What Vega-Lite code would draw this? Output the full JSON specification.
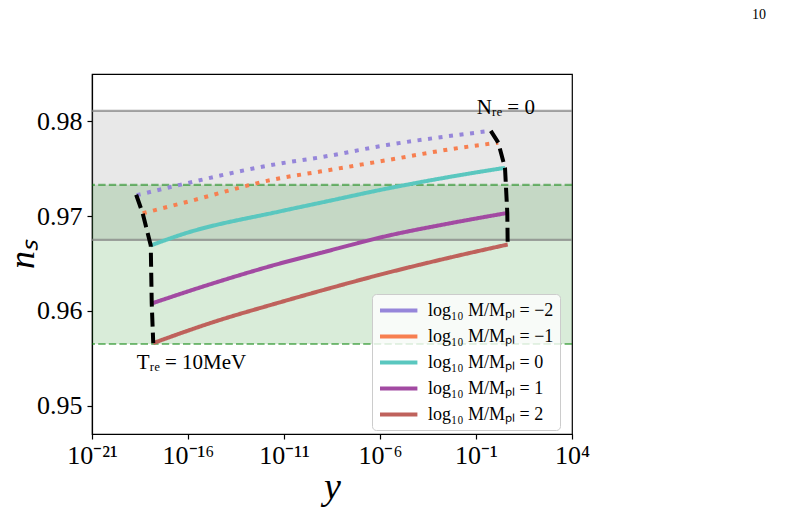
{
  "$schema": "https://vega.github.io/schema/vega-lite/v6.json",
  "width": 480,
  "height": 360,
  "autosize": {"type": "none"},
  "padding": {"left": 92, "top": 74, "right": 235, "bottom": 80},
  "config": {
    "font": "Liberation Serif",
    "view": {"stroke": "#000000", "strokeWidth": 1.2},
    "axis": {
      "grid": false,
      "domainColor": "#000000",
      "domainWidth": 1.2,
      "tickColor": "#000000",
      "tickWidth": 1.2,
      "tickSize": 5,
      "labelColor": "#000000",
      "titleColor": "#000000",
      "labelFont": "Liberation Serif",
      "titleFont": "Liberation Serif",
      "titleFontWeight": "normal"
    },
    "legend": {
      "orient": "none",
      "legendX": 280,
      "legendY": 220,
      "title": null,
      "labelFont": "Liberation Serif",
      "labelFontSize": 18,
      "labelColor": "#000000",
      "symbolType": "M-1,0L3.4,0",
      "symbolSize": 289,
      "symbolStrokeWidth": 4,
      "labelOffset": 29,
      "rowPadding": 6,
      "padding": 6,
      "fillColor": "rgba(255,255,255,0.8)",
      "strokeColor": "#cccccc",
      "cornerRadius": 4
    }
  },
  "datasets": {
    "bands": [
      {"band": "planck", "lo": 0.9675, "hi": 0.9811},
      {"band": "forecast", "lo": 0.9565, "hi": 0.9733}
    ],
    "curves": [
      {"label": "log₁₀ M/Mₚₗ = −2", "style": "dot", "yval": 2.14e-19, "ns": 0.9722},
      {"label": "log₁₀ M/Mₚₗ = −2", "style": "dot", "yval": 3.8e-17, "ns": 0.9733},
      {"label": "log₁₀ M/Mₚₗ = −2", "style": "dot", "yval": 6.17e-12, "ns": 0.97555},
      {"label": "log₁₀ M/Mₚₗ = −2", "style": "dot", "yval": 7.5e-10, "ns": 0.9762},
      {"label": "log₁₀ M/Mₚₗ = −2", "style": "dot", "yval": 2.24e-6, "ns": 0.9775},
      {"label": "log₁₀ M/Mₚₗ = −2", "style": "dot", "yval": 6.31e-3, "ns": 0.9785},
      {"label": "log₁₀ M/Mₚₗ = −2", "style": "dot", "yval": 0.589, "ns": 0.979},
      {"label": "log₁₀ M/Mₚₗ = −1", "style": "dot", "yval": 4.37e-19, "ns": 0.9703},
      {"label": "log₁₀ M/Mₚₗ = −1", "style": "dot", "yval": 3.8e-17, "ns": 0.9713},
      {"label": "log₁₀ M/Mₚₗ = −1", "style": "dot", "yval": 6.17e-12, "ns": 0.974},
      {"label": "log₁₀ M/Mₚₗ = −1", "style": "dot", "yval": 7.5e-10, "ns": 0.9747},
      {"label": "log₁₀ M/Mₚₗ = −1", "style": "dot", "yval": 2.24e-6, "ns": 0.9759},
      {"label": "log₁₀ M/Mₚₗ = −1", "style": "dot", "yval": 6.31e-3, "ns": 0.9771},
      {"label": "log₁₀ M/Mₚₗ = −1", "style": "dot", "yval": 1.445, "ns": 0.97775},
      {"label": "log₁₀ M/Mₚₗ = 0", "style": "solid", "yval": 1.15e-18, "ns": 0.9669},
      {"label": "log₁₀ M/Mₚₗ = 0", "style": "solid", "yval": 3.8e-17, "ns": 0.968},
      {"label": "log₁₀ M/Mₚₗ = 0", "style": "solid", "yval": 6.17e-12, "ns": 0.9705},
      {"label": "log₁₀ M/Mₚₗ = 0", "style": "solid", "yval": 7.5e-10, "ns": 0.9714},
      {"label": "log₁₀ M/Mₚₗ = 0", "style": "solid", "yval": 2.24e-6, "ns": 0.9729},
      {"label": "log₁₀ M/Mₚₗ = 0", "style": "solid", "yval": 6.31e-3, "ns": 0.9742},
      {"label": "log₁₀ M/Mₚₗ = 0", "style": "solid", "yval": 3.24, "ns": 0.9751},
      {"label": "log₁₀ M/Mₚₗ = 1", "style": "solid", "yval": 1.29e-18, "ns": 0.96078},
      {"label": "log₁₀ M/Mₚₗ = 1", "style": "solid", "yval": 2.0e-15, "ns": 0.9629},
      {"label": "log₁₀ M/Mₚₗ = 1", "style": "solid", "yval": 6.17e-12, "ns": 0.965},
      {"label": "log₁₀ M/Mₚₗ = 1", "style": "solid", "yval": 7.5e-10, "ns": 0.9661},
      {"label": "log₁₀ M/Mₚₗ = 1", "style": "solid", "yval": 2.24e-6, "ns": 0.9679},
      {"label": "log₁₀ M/Mₚₗ = 1", "style": "solid", "yval": 6.31e-3, "ns": 0.9693},
      {"label": "log₁₀ M/Mₚₗ = 1", "style": "solid", "yval": 4.27, "ns": 0.97033},
      {"label": "log₁₀ M/Mₚₗ = 2", "style": "solid", "yval": 1.55e-18, "ns": 0.9566},
      {"label": "log₁₀ M/Mₚₗ = 2", "style": "solid", "yval": 2.0e-15, "ns": 0.9588},
      {"label": "log₁₀ M/Mₚₗ = 2", "style": "solid", "yval": 6.17e-12, "ns": 0.9609},
      {"label": "log₁₀ M/Mₚₗ = 2", "style": "solid", "yval": 7.5e-10, "ns": 0.9621},
      {"label": "log₁₀ M/Mₚₗ = 2", "style": "solid", "yval": 2.24e-6, "ns": 0.964},
      {"label": "log₁₀ M/Mₚₗ = 2", "style": "solid", "yval": 6.31e-3, "ns": 0.9657},
      {"label": "log₁₀ M/Mₚₗ = 2", "style": "solid", "yval": 4.47, "ns": 0.967}
    ],
    "edges": [
      {"edge": "Tre", "k": 1, "yval": 2.0e-19, "ns": 0.97225},
      {"edge": "Tre", "k": 2, "yval": 4.37e-19, "ns": 0.9703},
      {"edge": "Tre", "k": 3, "yval": 1.15e-18, "ns": 0.9669},
      {"edge": "Tre", "k": 4, "yval": 1.29e-18, "ns": 0.96078},
      {"edge": "Tre", "k": 5, "yval": 1.55e-18, "ns": 0.9566},
      {"edge": "Nre", "k": 1, "yval": 0.589, "ns": 0.979},
      {"edge": "Nre", "k": 2, "yval": 1.445, "ns": 0.97775},
      {"edge": "Nre", "k": 3, "yval": 3.24, "ns": 0.9751},
      {"edge": "Nre", "k": 4, "yval": 4.27, "ns": 0.97033},
      {"edge": "Nre", "k": 5, "yval": 4.47, "ns": 0.967}
    ],
    "notes": [
      {"txt": "Nᵣₑ = 0", "yval": 0.1086, "ns": 0.98075},
      {"txt": "Tᵣₑ = 10MeV", "yval": 2.14e-19, "ns": 0.95389}
    ],
    "page": [
      {"txt": "10", "yval": 2.37e13, "ns": 0.99083}
    ]
  },
  "layer": [
    {
      "data": {"name": "curves"},
      "mark": {"type": "line", "strokeWidth": 0, "opacity": 0},
      "encoding": {
        "x": {
          "field": "yval",
          "type": "quantitative",
          "scale": {"type": "log", "domain": [1e-21, 1e4], "nice": false},
          "axis": {
            "title": "y",
            "titleFontSize": 38,
            "titleFontStyle": "italic",
            "titlePadding": 0,
            "values": [1e-21, 1e-16, 1e-11, 1e-6, 0.1, 1e4],
            "labelExpr": "datum.value < 1e-20 ? '10⁻²¹' : datum.value < 1e-15 ? '10⁻¹⁶' : datum.value < 1e-10 ? '10⁻¹¹' : datum.value < 1e-5 ? '10⁻⁶' : datum.value < 1 ? '10⁻¹' : '10⁴'",
            "labelFontSize": 26,
            "labelPadding": 3,
            "labelFlush": false
          }
        },
        "y": {
          "field": "ns",
          "type": "quantitative",
          "scale": {"domain": [0.947, 0.985], "nice": false, "zero": false},
          "axis": {
            "title": "nₛ",
            "titleFontSize": 36,
            "titleFontStyle": "italic",
            "titlePadding": -5,
            "values": [0.95, 0.96, 0.97, 0.98],
            "format": ".2f",
            "labelFontSize": 26,
            "labelPadding": 5
          }
        },
        "detail": {"field": "label"}
      }
    },
    {
      "data": {"name": "bands"},
      "transform": [{"filter": "datum.band == 'planck'"}],
      "mark": {"type": "rect", "fill": "#808080", "opacity": 0.18},
      "encoding": {
        "y": {"field": "lo", "type": "quantitative"},
        "y2": {"field": "hi"}
      }
    },
    {
      "data": {"name": "bands"},
      "transform": [{"filter": "datum.band == 'forecast'"}],
      "mark": {"type": "rect", "fill": "#008000", "opacity": 0.15},
      "encoding": {
        "y": {"field": "lo", "type": "quantitative"},
        "y2": {"field": "hi"}
      }
    },
    {
      "data": {"name": "bands"},
      "transform": [
        {"filter": "datum.band == 'planck'"},
        {"fold": ["lo", "hi"], "as": ["side", "edge_ns"]}
      ],
      "mark": {"type": "rule", "color": "#808080", "opacity": 0.7, "strokeWidth": 2.2},
      "encoding": {
        "y": {"field": "edge_ns", "type": "quantitative"}
      }
    },
    {
      "data": {"name": "bands"},
      "transform": [
        {"filter": "datum.band == 'forecast'"},
        {"fold": ["lo", "hi"], "as": ["side", "edge_ns"]}
      ],
      "mark": {"type": "rule", "color": "#008000", "opacity": 0.5, "strokeWidth": 2.2, "strokeDash": [7.4, 3.2]},
      "encoding": {
        "y": {"field": "edge_ns", "type": "quantitative"}
      }
    },
    {
      "data": {"name": "curves"},
      "mark": {"type": "line", "strokeWidth": 4, "strokeCap": "butt", "interpolate": "monotone"},
      "encoding": {
        "x": {"field": "yval", "type": "quantitative"},
        "y": {"field": "ns", "type": "quantitative"},
        "color": {
          "field": "label",
          "type": "nominal",
          "scale": {
            "domain": ["log₁₀ M/Mₚₗ = −2", "log₁₀ M/Mₚₗ = −1", "log₁₀ M/Mₚₗ = 0", "log₁₀ M/Mₚₗ = 1", "log₁₀ M/Mₚₗ = 2"],
            "range": ["#9686da", "#f77f50", "#5ac7bf", "#a24aa2", "#bf625c"]
          }
        },
        "strokeDash": {
          "field": "style",
          "type": "nominal",
          "scale": {"domain": ["dot", "solid"], "range": [[4, 6.6], [1, 0]]},
          "legend": null
        }
      }
    },
    {
      "data": {"name": "edges"},
      "mark": {"type": "line", "color": "#000000", "strokeWidth": 4, "strokeDash": [14, 6], "strokeCap": "butt"},
      "encoding": {
        "x": {"field": "yval", "type": "quantitative"},
        "y": {"field": "ns", "type": "quantitative"},
        "detail": {"field": "edge"},
        "order": {"field": "k"}
      }
    },
    {
      "data": {"name": "notes"},
      "mark": {"type": "text", "align": "left", "baseline": "alphabetic", "fontSize": 21, "font": "Liberation Serif", "color": "#000000"},
      "encoding": {
        "x": {"field": "yval", "type": "quantitative"},
        "y": {"field": "ns", "type": "quantitative"},
        "text": {"field": "txt"}
      }
    },
    {
      "data": {"name": "page"},
      "mark": {"type": "text", "align": "left", "baseline": "alphabetic", "fontSize": 14, "font": "Liberation Serif", "color": "#000000"},
      "encoding": {
        "x": {"field": "yval", "type": "quantitative"},
        "y": {"field": "ns", "type": "quantitative"},
        "text": {"field": "txt"}
      }
    }
  ]
}
